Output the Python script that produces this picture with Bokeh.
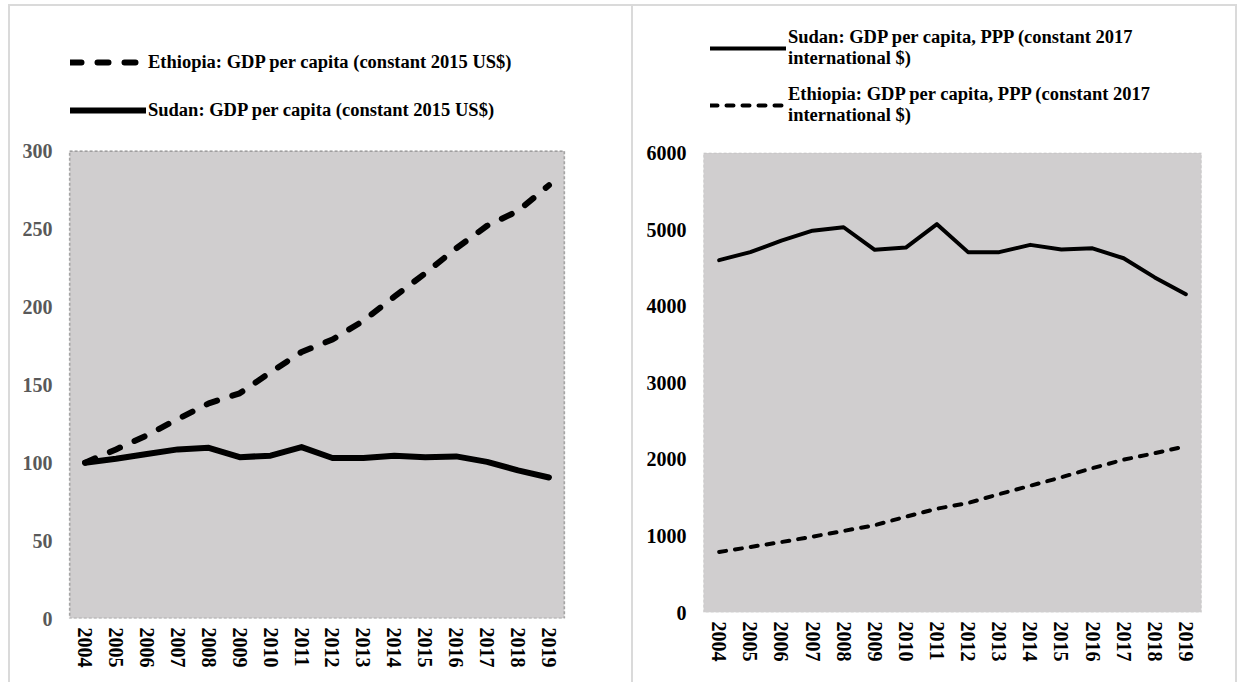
from bokeh.plotting import figure
from bokeh.layouts import row
from bokeh.models import (Range1d, FactorRange, Legend, LegendItem, FixedTicker,
                          BoxAnnotation)
from bokeh.embed import file_html
from bokeh.resources import INLINE

# Years on the category axis
years = ["2004", "2005", "2006", "2007", "2008", "2009", "2010", "2011",
         "2012", "2013", "2014", "2015", "2016", "2017", "2018", "2019"]

# GDP per capita (constant 2015 US$), index 2004 = 100
ethiopia_index = [100, 108.5, 117.5, 128, 138, 144.5, 158, 171,
                  179, 191, 206.5, 221.5, 237.5, 252, 261.5, 278]
sudan_index = [100, 102.5, 105.5, 108.5, 109.5, 103.5, 104.5, 110,
               103, 103, 104.5, 103.5, 104, 100.5, 95, 90.5]

# GDP per capita, PPP (constant 2017 international $)
sudan_ppp = [4600, 4705, 4855, 4985, 5030, 4735, 4765, 5070,
             4705, 4705, 4800, 4740, 4755, 4625, 4375, 4155]
ethiopia_ppp = [790, 855, 920, 990, 1065, 1140, 1250, 1355,
                1430, 1545, 1655, 1765, 1885, 1995, 2080, 2170]

left_ticks = [0, 50, 100, 150, 200, 250, 300]
right_ticks = [0, 1000, 2000, 3000, 4000, 5000, 6000]

left_labels = ["Ethiopia: GDP per capita (constant 2015 US$)",
               "Sudan: GDP per capita (constant 2015 US$)"]
right_labels = ["Sudan: GDP per capita, PPP (constant 2017\ninternational $)",
                "Ethiopia: GDP per capita, PPP (constant 2017\ninternational $)"]

FONT = "Liberation Serif"
PANEL_EDGE = "2px solid #dadada"


def make_panel(ticks, y_top, ytick_color, edge_color, edge_width, fw, fh, mb):
    """Chart with a grey plotting box from 0 to the top tick; the space
    above the box holds the legend."""
    p = figure(x_range=FactorRange(*years, range_padding=0.1,
                                   range_padding_units="absolute"),
               y_range=Range1d(0, y_top),
               frame_width=fw, frame_height=fh,
               min_border_left=mb[0], min_border_right=mb[1],
               min_border_top=mb[2], min_border_bottom=mb[3],
               output_backend="svg", toolbar_location=None)
    p.background_fill_color = "white"
    p.border_fill_color = "white"
    p.outline_line_color = None
    p.xgrid.visible = False
    p.ygrid.visible = False

    box = BoxAnnotation(left=0, right=len(years), bottom=0, top=ticks[-1],
                        fill_color="#D0CECF", fill_alpha=1.0,
                        line_color=edge_color, line_dash="3 2",
                        line_width=edge_width, level="underlay")
    p.add_layout(box)

    p.yaxis.ticker = FixedTicker(ticks=ticks)
    for ax in (p.xaxis[0], p.yaxis[0]):
        ax.axis_line_color = None
        ax.major_tick_line_color = None
        ax.minor_tick_line_color = None
        ax.major_tick_out = 0
        ax.major_tick_in = 0
        ax.minor_tick_out = 0
        ax.major_label_text_font = FONT
        ax.major_label_text_font_style = "bold"
        ax.major_label_text_font_size = "20px"
    p.yaxis.major_label_text_color = ytick_color
    p.yaxis.major_label_standoff = 14
    p.xaxis.major_label_text_color = "black"
    p.xaxis.major_label_orientation = "vertical"
    p.xaxis.major_label_standoff = 9
    return p


def style_legend(leg, width, glyph_h, spacing):
    leg.label_text_font = FONT
    leg.label_text_font_style = "bold"
    leg.label_text_font_size = "18.5px"
    leg.label_text_color = "black"
    leg.glyph_width = width
    leg.glyph_height = glyph_h
    leg.spacing = spacing
    leg.padding = 0
    leg.margin = 0
    leg.label_standoff = 2
    leg.background_fill_alpha = 0
    leg.border_line_alpha = 0


# Left panel: indexed GDP per capita
p1 = make_panel(left_ticks, 383.7, "#595959", "black", 1.5, 499, 596, (56, 66, 14, 66))
r_eth = p1.line(years, ethiopia_index, line_color="black", line_width=6,
                line_dash="11 16", line_cap="round", line_join="round")
r_sdn = p1.line(years, sudan_index, line_color="black", line_width=6,
                line_cap="round", line_join="round")
leg1 = Legend(items=[LegendItem(label=left_labels[0], renderers=[r_eth]),
                     LegendItem(label=left_labels[1], renderers=[r_sdn])],
              location=(4, 497))
style_legend(leg1, 76, 22, 26)
p1.add_layout(leg1)
p1.styles = {"margin-left": "8px", "margin-top": "4px",
             "border-left": PANEL_EDGE, "border-top": PANEL_EDGE}

# Right panel: GDP per capita in PPP terms
p2 = make_panel(right_ticks, 7729.3, "black", "#9a9a9a", 1, 500, 590, (67, 35, 14, 72))
r_sdn2 = p2.line(years, sudan_ppp, line_color="black", line_width=4,
                 line_cap="round", line_join="round")
r_eth2 = p2.line(years, ethiopia_ppp, line_color="black", line_width=4,
                 line_dash="7 9", line_cap="round", line_join="round")
leg2 = Legend(items=[LegendItem(label=right_labels[0], renderers=[r_sdn2]),
                     LegendItem(label=right_labels[1], renderers=[r_eth2])],
              location=(10, 486))
style_legend(leg2, 76, 42, 15)
p2.add_layout(leg2)
p2.styles = {"margin-top": "4px", "border-left": PANEL_EDGE,
             "border-top": PANEL_EDGE, "border-right": PANEL_EDGE}

layout = row(p1, p2, spacing=0)

with open("out.html", "w") as f:
    f.write(file_html(layout, INLINE))
